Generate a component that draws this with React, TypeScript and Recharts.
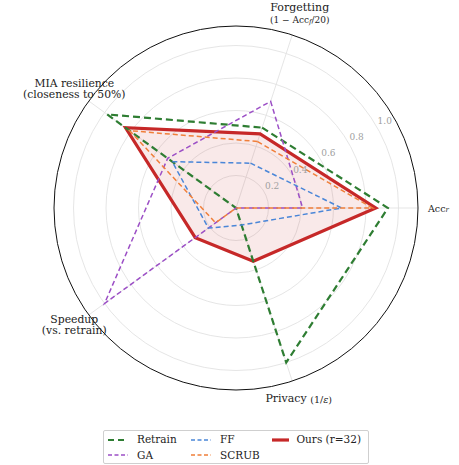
import React from 'react';
import { RadarChart, Radar, PolarGrid, PolarAngleAxis, PolarRadiusAxis, Legend } from 'recharts';

const FONT = '"DejaVu Serif", serif';

// axes listed clockwise starting at the Forgetting spoke
const axes = ['Forgetting', 'Acc_r', 'Privacy', 'Speedup', 'MIA'];
const radiusTicks = [0.2, 0.4, 0.6, 0.8, 1.0];

const retrain = [0.52, 0.935, 1.0, 0.0, 0.98];
const ga = [0.69, 0.41, 0.0, 1.0, 0.52];
const ff = [0.29, 0.65, 0.11, 0.21, 0.485];
const scrub = [0.43, 0.84, 0.0, 0.155, 0.81];
const ours = [0.48, 0.86, 0.345, 0.31, 0.84];

const series = [
  { key: 'retrain', label: 'Retrain', color: '#2e7d32', width: 2.2, dash: '7 4' },
  { key: 'ga', label: 'GA', color: '#9c4fc6', width: 1.5, dash: '5 3' },
  { key: 'ff', label: 'FF', color: '#4a86d8', width: 1.5, dash: '5 3' },
  { key: 'scrub', label: 'SCRUB', color: '#f07f3a', width: 1.5, dash: '5 3' },
  { key: 'ours', label: 'Ours (r=32)', color: '#c62828', width: 3.2, dash: undefined },
];

const data = axes.map((axis, i) => ({
  axis,
  retrain: retrain[i],
  ga: ga[i],
  ff: ff[i],
  scrub: scrub[i],
  ours: ours[i],
}));

function AngleTick(props: any) {
  const { x, y, payload } = props;
  const common = { fontFamily: FONT, fill: '#222', dominantBaseline: 'central' as const };
  switch (payload.value) {
    case 'Acc_r':
      return (
        <text x={x + 2} y={y} textAnchor="start" fontSize={9.5} {...common}>
          Acc<tspan fontStyle="italic" fontSize={7} dy={2}>r</tspan>
        </text>
      );
    case 'Forgetting':
      return (
        <g>
          <text x={x + 5} y={y - 20} textAnchor="middle" fontSize={11} {...common}>Forgetting</text>
          <text x={x + 5} y={y - 7} textAnchor="middle" fontSize={9} {...common}>
            (1 − Acc<tspan fontStyle="italic" fontSize={6.5} dy={2}>f</tspan><tspan dy={-2}>/20)</tspan>
          </text>
        </g>
      );
    case 'MIA':
      return (
        <g>
          <text x={x - 8} y={y - 13} textAnchor="middle" fontSize={10.8} {...common}>MIA resilience</text>
          <text x={x - 8} y={y - 1.5} textAnchor="middle" fontSize={10.8} {...common}>(closeness to 50%)</text>
        </g>
      );
    case 'Speedup':
      return (
        <g>
          <text x={x - 8} y={y - 0.5} textAnchor="middle" fontSize={10.8} {...common}>Speedup</text>
          <text x={x - 8} y={y + 11} textAnchor="middle" fontSize={10.8} {...common}>(vs. retrain)</text>
        </g>
      );
    default:
      return (
        <text x={x + 4} y={y + 10} textAnchor="middle" fontSize={11} {...common}>
          Privacy <tspan fontSize={9.5}>(1/</tspan><tspan fontSize={9.5} fontStyle="italic">ε</tspan><tspan fontSize={9.5}>)</tspan>
        </text>
      );
  }
}

function RadiusTick(props: any) {
  const { x, y, payload } = props;
  return (
    <text x={x + 8} y={y - 6} textAnchor="middle" dominantBaseline="central"
      fontFamily={FONT} fontSize={9} fill="#a0a0a0">
      {Number(payload.value).toFixed(1)}
    </text>
  );
}

function LegendBox() {
  const order = ['retrain', 'ff', 'ours', 'ga', 'scrub'];
  const cols = [83, 81, 90];
  return (
    <div style={{
      border: '1px solid #cfcfcf', borderRadius: 2, background: '#fff', boxSizing: 'border-box',
      width: 266, height: 34, padding: '1px 0 0 3px', display: 'grid',
      gridTemplateColumns: cols.map((c) => `${c}px`).join(' '), gridAutoFlow: 'row',
      fontFamily: FONT, fontSize: 10.5, color: '#222', lineHeight: '15.5px',
    }}>
      {order.map((k) => {
        const s = series.find((d) => d.key === k)!;
        return (
          <div key={k} style={{ display: 'flex', alignItems: 'center', whiteSpace: 'nowrap', fontFamily: FONT }}>
            <svg width={22} height={8} style={{ marginRight: 8 }}>
              <line x1={1} y1={4} x2={21} y2={4} stroke={s.color}
                strokeWidth={k === 'ours' ? 3.2 : k === 'retrain' ? 2.2 : 1.6}
                strokeDasharray={s.dash ? (k === 'retrain' ? '6 4' : '4 2.5') : undefined} />
            </svg>
            <span style={{ fontFamily: FONT }}>{s.label}</span>
          </div>
        );
      })}
    </div>
  );
}

export default function App() {
  const drawOrder = ['ours', 'retrain', 'ga', 'ff', 'scrub'];
  return (
    <div style={{ position: 'absolute', left: 0, top: 0, background: '#fff' }}>
      <RadarChart width={459} height={465} data={data} cx={236} cy={208} outerRadius={182}
        startAngle={72} endAngle={-288} margin={{ top: 0, right: 0, bottom: 0, left: 0 }}>
        <PolarGrid gridType="circle" stroke="#e2e2e2" strokeWidth={0.9} />
        <PolarAngleAxis dataKey="axis" tick={<AngleTick />} tickLine={false}
          axisLine={{ stroke: '#111', strokeWidth: 1 }} axisLineType="circle" />
        <PolarRadiusAxis angle={30} domain={[0, 1.12]} ticks={radiusTicks} tick={<RadiusTick />}
          axisLine={false} tickLine={false} />
        {drawOrder.map((k) => {
          const s = series.find((d) => d.key === k)!;
          return (
            <Radar key={k} name={s.label} dataKey={k} stroke={s.color} strokeWidth={s.width}
              strokeDasharray={s.dash} fill={k === 'ours' ? s.color : 'none'}
              fillOpacity={k === 'ours' ? 0.1 : 0} dot={false} isAnimationActive={false} />
          );
        })}
        <Legend content={<LegendBox />}
          wrapperStyle={{ position: 'absolute', left: 103, top: 430, width: 266, height: 34 }} />
      </RadarChart>
    </div>
  );
}
